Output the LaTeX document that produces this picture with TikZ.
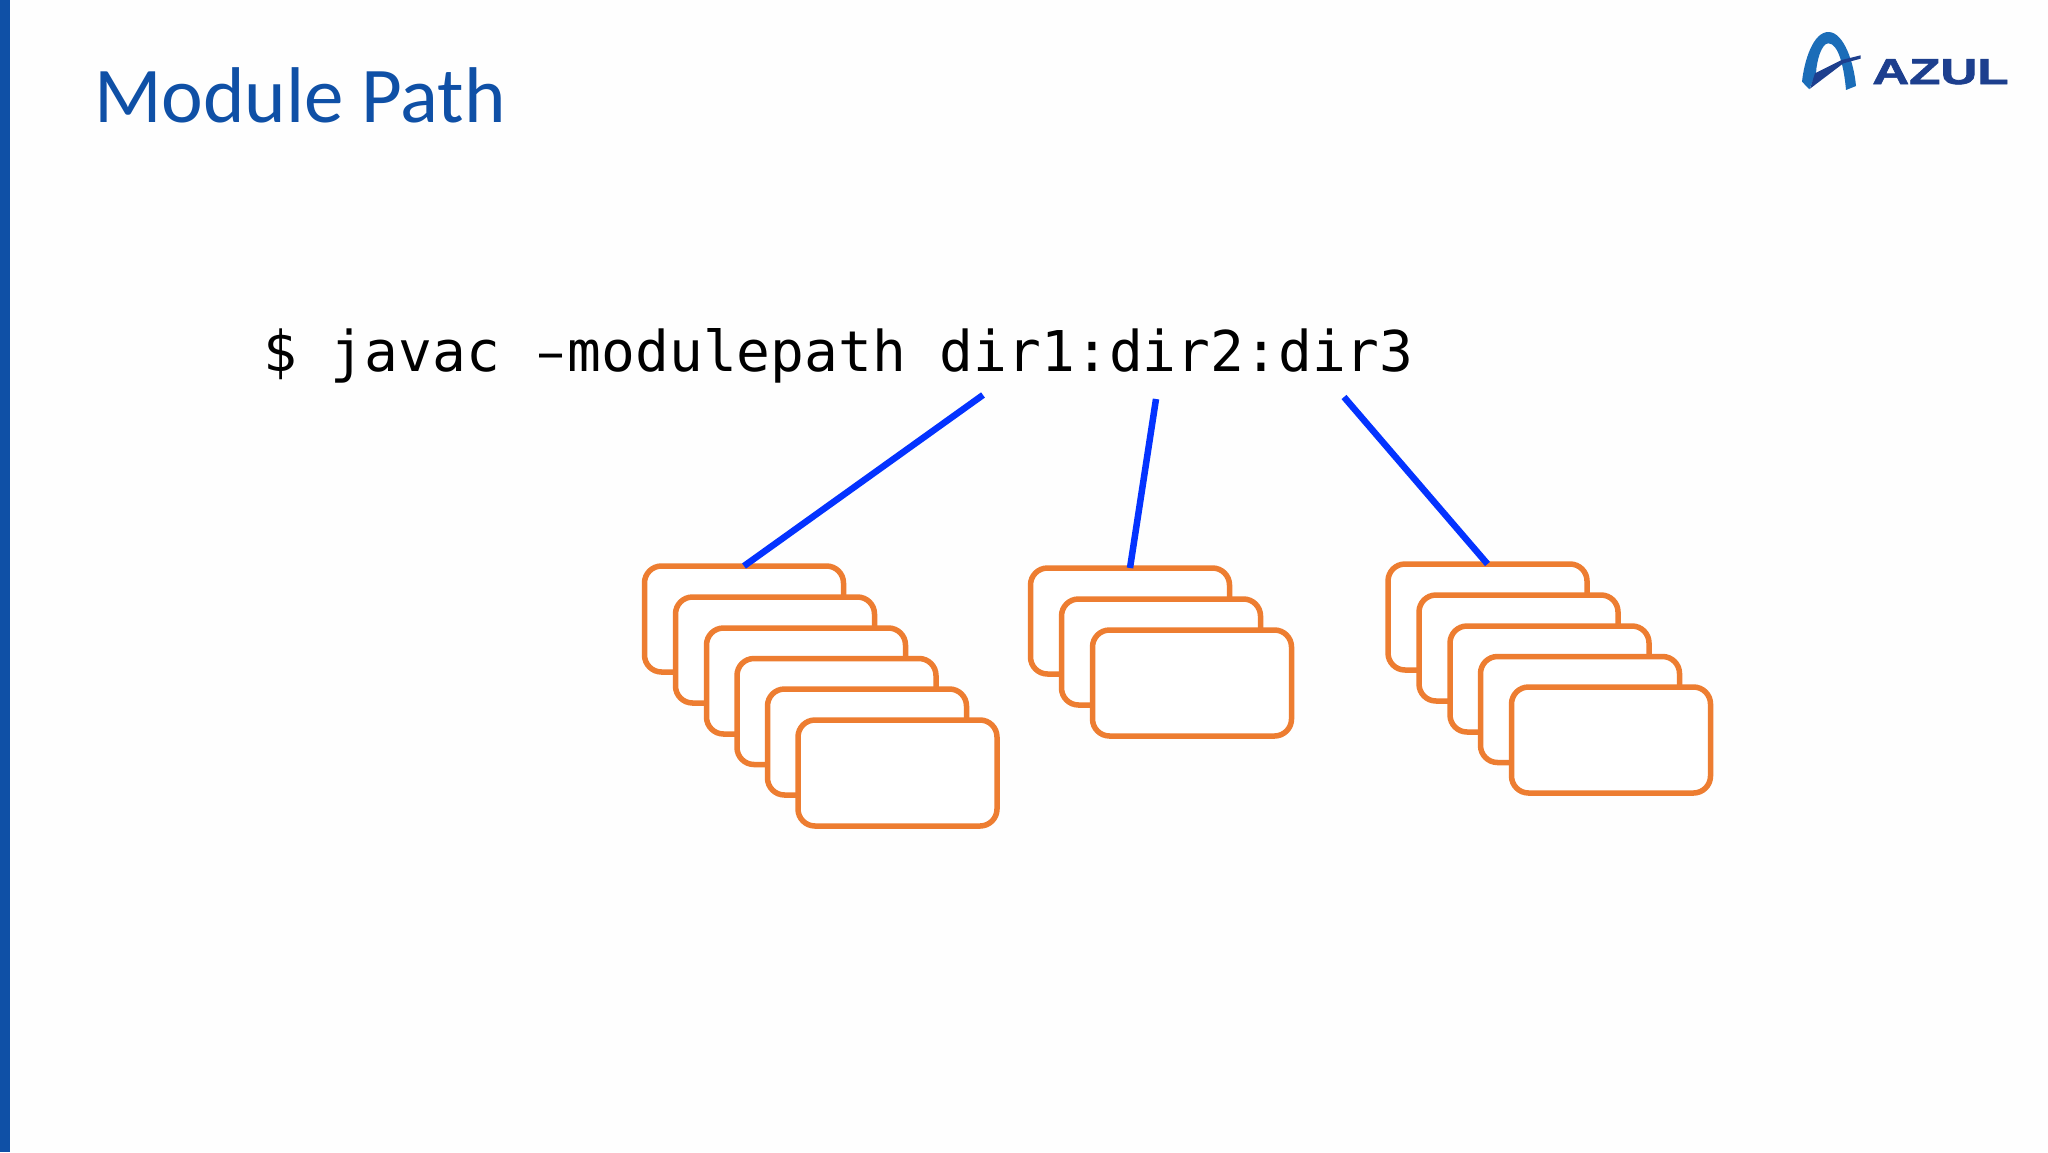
\documentclass[tikz,border=0pt]{standalone}
\usepackage{fontspec}
\setmainfont{Carlito}
\newfontfamily\cmdfont{DejaVu Sans Mono}
\newfontfamily\logofont[BoldFeatures={FakeBold=1.6}]{Liberation Sans}
\definecolor{slideblue}{HTML}{0F50A6}
\definecolor{boxorange}{HTML}{ED7D31}
\definecolor{linkblue}{HTML}{0433FF}
\definecolor{logoblue}{HTML}{1B6DB8}
\definecolor{logodark}{HTML}{1D3F8E}
\tikzset{
  modbox/.style={draw=boxorange,fill=white,line width=5.5pt,rounded corners=17pt,
    minimum width=199pt,minimum height=106pt,inner sep=0pt,outer sep=0pt},
  link/.style={draw=linkblue,line width=6.5pt},
}
\begin{document}
\begin{tikzpicture}[x=1pt,y=-1pt]
\useasboundingbox (0,0) rectangle (2048,1152);
\fill[white!99.5!black] (0,0) rectangle (2048,1152);
\fill[slideblue] (0,0) rectangle (10,1152);
\node[anchor=base west,inner sep=0pt,text=slideblue] (title) at (94,122)
  {\fontsize{79}{86}\selectfont Module Path};
\node[anchor=base west,inner sep=0pt,text=black] (cmd) at (263,371)
  {\cmdfont\fontsize{56.2}{60}\selectfont \$ javac \makebox[0.602em]{\scalebox{0.68}[1]{–}}modulepath dir1:dir2:dir3};
% group 1
\foreach \i/\x/\y in {a/744/619,b/775/650,c/806/681,d/836.5/711.5,e/867/742,f/897.5/773}
  \node[modbox] (g1\i) at (\x,\y) {};
% group 2
\foreach \i/\x/\y in {a/1130/621,b/1161/652,c/1192/683}
  \node[modbox] (g2\i) at (\x,\y) {};
% group 3
\foreach \i/\x/\y in {a/1487.5/617,b/1518.5/648,c/1549.5/679,d/1580/709.5,e/1611/740}
  \node[modbox] (g3\i) at (\x,\y) {};
\coordinate (d1) at (983,395);
\coordinate (d2) at (1156,399);
\coordinate (d3) at (1344,397);
\draw[link] (d1) -- (g1a.north);
\draw[link] (d2) -- (g2a.north);
\draw[link] (d3) -- (g3a.north);
% logo
\begin{scope}[shift={(1760,10)},x=0.3333pt,y=-0.3333pt]
\fill[logoblue] (126,215) .. controls (133,150) and (160,66) .. (205,66)
  .. controls (252,66) and (282,160) .. (288,228) -- (258,240)
  .. controls (252,170) and (235,100) .. (205,100)
  .. controls (185,100) and (170,150) .. (168,190) -- (148,238) -- cycle;
\fill[logodark] (165,190) -- (245,150) -- (302,136) -- (302,146) -- (250,160) -- (150,236) -- cycle;
\end{scope}
\node[anchor=base west,inner sep=0pt,text=logodark,xscale=1.42] (logo) at (1872,84)
  {\logofont\bfseries\fontsize{36}{40}\selectfont AZUL};
\end{tikzpicture}
\end{document}
